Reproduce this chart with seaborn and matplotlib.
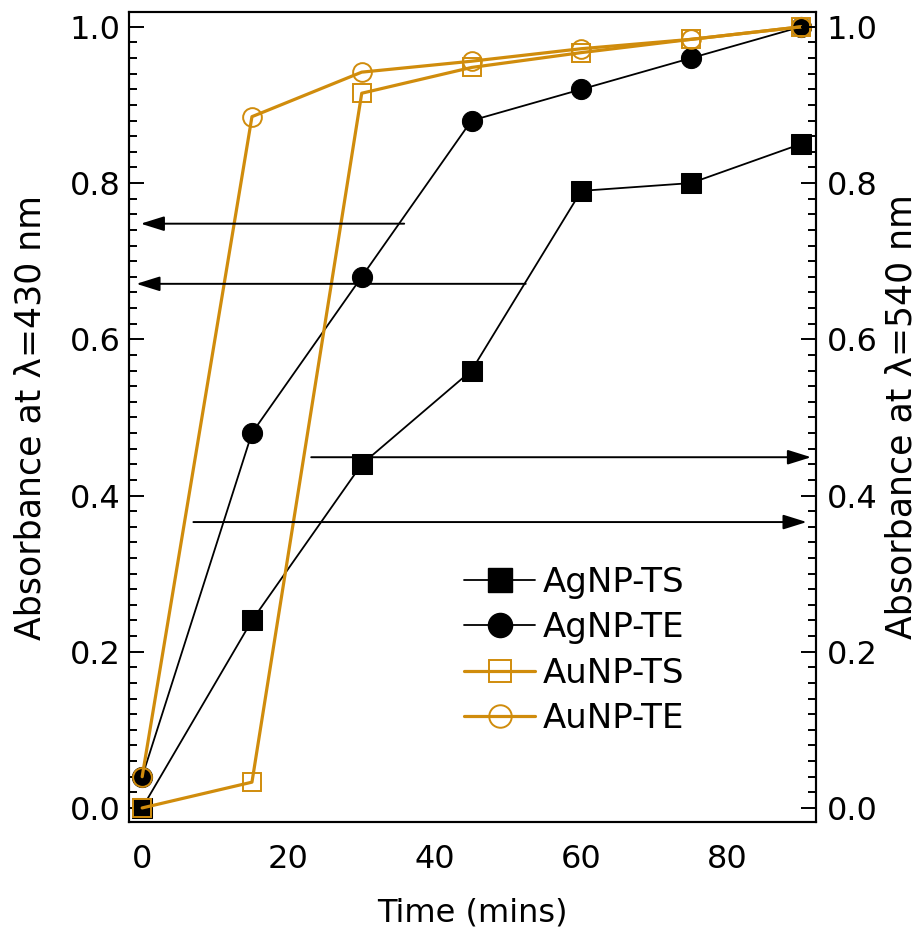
import matplotlib
matplotlib.use("Agg")
import matplotlib.pyplot as plt
import pandas as pd
import seaborn as sns
from matplotlib.lines import Line2D
from matplotlib.ticker import MultipleLocator

# Time points (minutes) and normalised absorbance of each nanoparticle synthesis
time_min = [0, 15, 30, 45, 60, 75, 90]
agnp_ts = [0.0, 0.24, 0.44, 0.56, 0.79, 0.80, 0.85]
agnp_te = [0.04, 0.48, 0.68, 0.88, 0.92, 0.96, 1.0]
aunp_ts = [0.0, 0.033, 0.915, 0.948, 0.967, 0.984, 1.0]
aunp_te = [0.04, 0.885, 0.942, 0.956, 0.972, 0.984, 1.0]

series_names = ["AgNP-TS", "AgNP-TE", "AuNP-TS", "AuNP-TE"]
series_values = [agnp_ts, agnp_te, aunp_ts, aunp_te]

y_ticks = [0.0, 0.2, 0.4, 0.6, 0.8, 1.0]
x_ticks = [0, 20, 40, 60, 80]

# Arrows linking each curve to its axis: height, tail x, tip x
arrow_y = [0.748, 0.671, 0.449, 0.366]
arrow_tail_x = [35.8, 52.4, 23.1, 7.0]
arrow_tip_x = [-0.2, -0.8, 91.4, 90.8]

GOLD = "#D08C0C"

df = pd.concat(
    [pd.DataFrame({"time": time_min, "absorbance": v, "series": n})
     for n, v in zip(series_names, series_values)],
    ignore_index=True,
)

styles = {
    "AgNP-TS": dict(color="black", marker="s", markerfacecolor="black",
                    markeredgecolor="black", lw=1.3, markersize=14),
    "AgNP-TE": dict(color="black", marker="o", markerfacecolor="black",
                    markeredgecolor="black", lw=1.3, markersize=14.5),
    "AuNP-TS": dict(color=GOLD, marker="s", markerfacecolor="none",
                    markeredgecolor=GOLD, lw=2.3, markersize=13, markeredgewidth=1.4),
    "AuNP-TE": dict(color=GOLD, marker="o", markerfacecolor="none",
                    markeredgecolor=GOLD, lw=2.3, markersize=13.5, markeredgewidth=1.4),
}

sns.set_style("white")
plt.rcParams["font.family"] = ["DejaVu Sans"]
plt.rcParams["text.color"] = "black"
plt.rcParams["axes.labelcolor"] = "black"
plt.rcParams["xtick.color"] = "black"
plt.rcParams["ytick.color"] = "black"

fig = plt.figure(figsize=(9.22, 9.32), dpi=100)
ax = fig.add_axes([129 / 922, 1 - 822 / 932, 686.5 / 922, 810 / 932])

for name in series_names:
    sub = df[df["series"] == name]
    sns.lineplot(data=sub, x="time", y="absorbance", ax=ax, legend=False,
                 **styles[name])

for y, x0, x1 in zip(arrow_y, arrow_tail_x, arrow_tip_x):
    ax.annotate("", xy=(x1, y), xytext=(x0, y),
                arrowprops=dict(arrowstyle="-|>,head_length=0.8,head_width=0.25",
                                mutation_scale=18, color="black", lw=1.4,
                                shrinkA=0, shrinkB=0))

ax.set_xlim(-1.8, 92)
ax.set_ylim(-0.018, 1.019)
ax.set_xticks(x_ticks)
ax.set_yticks(y_ticks)
ax.xaxis.set_minor_locator(MultipleLocator(2))
ax.yaxis.set_minor_locator(MultipleLocator(0.02))
ax.set_yticklabels([f"{t:.1f}" for t in y_ticks])

ax.tick_params(axis="both", which="both", direction="in", width=1.4,
               labelsize=23, top=False, right=False)
ax.tick_params(axis="both", which="major", length=11)
ax.tick_params(axis="both", which="minor", length=6)
ax.tick_params(axis="x", pad=16)
ax.tick_params(axis="y", pad=6)

ax.set_xlabel("Time (mins)", fontsize=23, labelpad=16)
ax.set_ylabel("Absorbance at λ=430 nm", fontsize=25, labelpad=16)

ax2 = ax.twinx()
ax2.set_ylim(ax.get_ylim())
ax2.set_yticks(y_ticks)
ax2.set_yticklabels([f"{t:.1f}" for t in y_ticks])
ax2.yaxis.set_minor_locator(MultipleLocator(0.02))
ax2.tick_params(axis="y", which="both", direction="in", width=1.4,
                labelsize=23, pad=8)
ax2.tick_params(axis="y", which="major", length=11)
ax2.tick_params(axis="y", which="minor", length=6)
ax2.set_ylabel("Absorbance at λ=540 nm", fontsize=25, labelpad=5)

for a in (ax, ax2):
    for sp in a.spines.values():
        sp.set_linewidth(1.5)
        sp.set_color("black")

handles = [
    Line2D([], [], **styles[n]) for n in series_names
]
ax.legend(handles, series_names, loc="upper left",
          bbox_to_anchor=(0.488, 0.316), frameon=False, fontsize=24.5,
          handlelength=2.1, handletextpad=0.22, labelspacing=0.36,
          markerscale=1.2, borderpad=0, borderaxespad=0)

fig.savefig("out.png", dpi=100)
